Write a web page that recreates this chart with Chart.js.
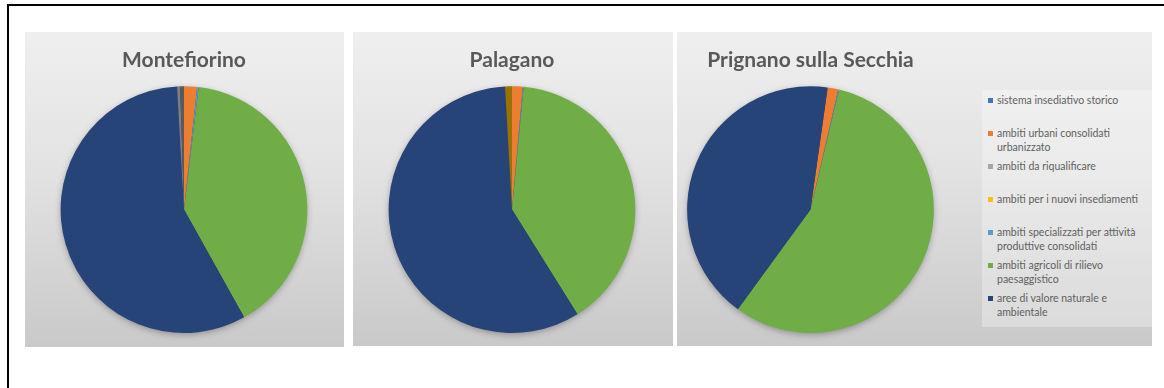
<!DOCTYPE html>
<html>
<head>
<meta charset="utf-8">
<script src="https://cdn.jsdelivr.net/npm/chart.js@4.4.1/dist/chart.umd.min.js"></script>
<style>
    body { margin: 0; background: #ffffff; width: 1164px; height: 388px; overflow: hidden; position: relative; font-family: Lato, sans-serif; }
    #frame { position: absolute; left: 7px; top: 4px; width: 1300px; height: 500px; border-left: 2px solid #000; border-top: 2px solid #000; }
    .panel { position: absolute; top: 32px; background: linear-gradient(to bottom, #efefef 0%, #e2e2e2 45%, #c9c9c9 100%); }
    .panel canvas { position: absolute; left: 0; top: 0; }
    #legendBox { position: absolute; left: 305px; top: 58px; width: 170px; height: 237px; background: rgba(255, 255, 255, 0.3); padding-top: 3px; box-sizing: border-box; }
    .item { position: relative; height: 33px; }
    .item .box { position: absolute; left: 6px; top: 5px; width: 5px; height: 5px; }
    .item .txt { position: absolute; left: 15px; top: 0; white-space: nowrap; font-size: 10.5px; line-height: 14px; color: #5f5f5f; }
</style>
</head>
<body>
<div id="frame"></div>
<div class="panel" style="left:25px;width:319px;height:315px;"><canvas id="montefiorino" width="319" height="315"></canvas></div>
<div class="panel" style="left:353px;width:320px;height:314px;"><canvas id="palagano" width="320" height="314"></canvas></div>
<div class="panel" style="left:677px;width:475px;height:314px;">
    <canvas id="prignano" width="267" height="314"></canvas>
    <div id="legendBox"></div>
</div>
<script>
// categories, split where the legend wraps them (the last three have no legend entry)
let categories = [
    ['sistema insediativo storico'],
    ['ambiti urbani consolidati', 'urbanizzato'],
    ['ambiti da riqualificare'],
    ['ambiti per i nuovi insediamenti'],
    ['ambiti specializzati per attività', 'produttive consolidati'],
    ['ambiti agricoli di rilievo', 'paesaggistico'],
    ['aree di valore naturale e', 'ambientale'],
    '', '', ''
];

// shares in percent
let montefiorinoValues = [0, 1.7, 0, 0, 0.2, 40.0, 57.2, 0.4, 0.5, 0];
let palaganoValues = [0, 1.4, 0, 0, 0.1, 39.6, 58.0, 0, 0, 0.9];
let prignanoValues = [0, 1.4, 0, 0, 0.1, 56.3, 42.2, 0, 0, 0];

let titles = ['Montefiorino', 'Palagano', 'Prignano sulla Secchia'];

let sliceColors = ['#4472C4', '#ED7D31', '#A5A5A5', '#FFC000', '#5B9BD5', '#70AD47', '#264478', '#7F7F7F', '#5A5A5A', '#997300'];

// soft shadow under the pie, like the office chart
const pieShadow = {
    id: 'pieShadow',
    beforeDatasetsDraw(chart) {
        let arc = chart.getDatasetMeta(0).data[0];
        if (!arc) return;
        let ctx = chart.ctx;
        ctx.save();
        ctx.shadowColor = 'rgba(0, 0, 0, 0.35)';
        ctx.shadowBlur = 7;
        ctx.shadowOffsetY = 2;
        ctx.fillStyle = '#264478';
        ctx.beginPath();
        ctx.arc(arc.x, arc.y, arc.outerRadius - 1, 0, 2 * Math.PI);
        ctx.fill();
        ctx.restore();
    }
};

function pie(id, title, values, padding, rotation) {
    return new Chart(document.getElementById(id), {
        type: 'pie',
        data: {
            labels: categories,
            datasets: [{
                data: values,
                backgroundColor: sliceColors,
                borderWidth: 0
            }]
        },
        options: {
            responsive: false,
            animation: false,
            rotation: rotation,
            layout: { padding: padding },
            plugins: {
                legend: { display: false },
                tooltip: { enabled: false },
                title: {
                    display: true,
                    text: title,
                    color: '#595959',
                    font: { family: 'Lato', size: 21, weight: 'bold', lineHeight: 1.2 },
                    padding: { top: 16, bottom: 13 }
                }
            }
        },
        plugins: [pieShadow]
    });
}

function main() {
    pie('montefiorino', titles[0], montefiorinoValues, { left: 35, right: 36, top: 0, bottom: 14 }, 0);
    pie('palagano', titles[1], palaganoValues, { left: 35, right: 37, top: 0, bottom: 13 }, 0);
    let last = pie('prignano', titles[2], prignanoValues, { left: 9, right: 9, top: 0, bottom: 13 }, 8);

    // legend built from the chart's own legend items
    let items = last.options.plugins.legend.labels.generateLabels(last).filter(it => it.text !== '');
    let box = document.getElementById('legendBox');
    items.forEach(it => {
        let lines = Array.isArray(it.text) ? it.text : [it.text];
        let row = document.createElement('div');
        row.className = 'item';
        row.innerHTML = '<span class="box" style="background:' + it.fillStyle + '"></span><span class="txt">' + lines.join('<br>') + '</span>';
        box.appendChild(row);
    });
}

main()
</script>
</body>
</html>
